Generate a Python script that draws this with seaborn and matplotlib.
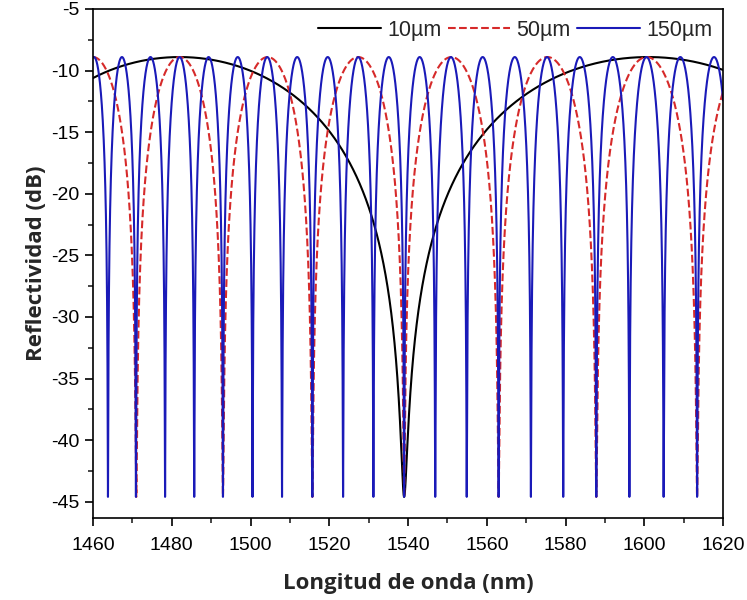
import numpy as np
import pandas as pd
import matplotlib
matplotlib.use("Agg")
import matplotlib.pyplot as plt
import seaborn as sns
from matplotlib.ticker import MultipleLocator

# ---- data ----
labels = ["10µm", "50µm", "150µm"]
colors = ["#000000", "#d62a2a", "#1a1ab8"]
styles = ["-", "--", "-"]
# wavelengths (nm) of the reflectivity nulls (incl. the neighbours just outside the axes)
nulls_10 = [1425.0, 1539.0, 1663.0]
nulls_50 = [1449.0, 1471.0, 1493.0, 1515.7, 1539.0, 1563.0, 1587.8, 1613.4, 1639.0]
nulls_150 = [1456.7, 1463.8, 1470.9, 1478.3, 1485.7, 1493.0, 1500.5, 1508.0, 1515.7,
             1523.5, 1531.2, 1539.0, 1546.9, 1554.9, 1563.0, 1571.2, 1579.4, 1587.8,
             1596.2, 1604.9, 1613.4, 1622.0]
peak_db = -8.9
floor_db = -44.6
x_ticks = [1460, 1480, 1500, 1520, 1540, 1560, 1580, 1600, 1620]
y_ticks = [-45, -40, -35, -30, -25, -20, -15, -10, -5]


def fringe(nulls):
    nulls = np.asarray(nulls)
    x = np.linspace(1460, 1620, 6001)
    inside = nulls[(nulls >= 1460) & (nulls <= 1620)]
    x = np.unique(np.concatenate([x, inside]))
    idx = np.searchsorted(nulls, x, side="right") - 1
    a = nulls[idx]
    b = nulls[idx + 1]
    ph = (x - a) / (b - a)
    s2 = np.sin(np.pi * ph) ** 2
    eps = 10 ** ((floor_db - peak_db) / 10)
    db = peak_db + 10 * np.log10(s2 * (1 - eps) + eps)
    return x, db


frames = []
for lab, nl in zip(labels, [nulls_10, nulls_50, nulls_150]):
    x, y = fringe(nl)
    frames.append(pd.DataFrame({"wl": x, "R": y, "serie": lab}))
df = pd.concat(frames, ignore_index=True)

sns.set_style("ticks")
plt.rcParams["font.family"] = ["Liberation Sans", "DejaVu Sans"]
plt.rcParams["axes.unicode_minus"] = False

fig = plt.figure(figsize=(7.47, 6.0), dpi=100)
ax = fig.add_axes([0.1245, 0.137, 0.8435, 0.848])

for lab, c, ls in zip(labels, colors, styles):
    sub = df[df["serie"] == lab]
    sns.lineplot(data=sub, x="wl", y="R", ax=ax, color=c, linestyle=ls,
                 linewidth=1.5, label=lab, sort=False, estimator=None)

ax.set_xlim(1460, 1620)
ax.set_ylim(-46.3, -5)
ax.set_xticks(x_ticks)
ax.set_yticks(y_ticks)
ax.xaxis.set_minor_locator(MultipleLocator(10))
ax.yaxis.set_minor_locator(MultipleLocator(2.5))
ax.tick_params(axis="both", which="major", direction="out", length=6, width=1.2,
               labelsize=14, colors="black")
ax.tick_params(axis="x", which="major", pad=7.5)
ax.tick_params(axis="both", which="minor", direction="out", length=3.5, width=1.2)
for sp in ax.spines.values():
    sp.set_visible(True)
    sp.set_linewidth(1.2)
    sp.set_color("black")

ax.set_xlabel("Longitud de onda (nm)", fontsize=16, fontweight="bold", labelpad=14,
              family=["Open Sans", "DejaVu Sans"])
ax.set_ylabel("Reflectividad (dB)", fontsize=16, fontweight="bold", labelpad=3,
              family=["Open Sans", "DejaVu Sans"])

leg = ax.legend(loc="upper right", ncol=3, frameon=False, fontsize=15.5,
                handlelength=2.9, columnspacing=0.3, handletextpad=0.3,
                borderaxespad=0.1)

fig.savefig("out.png", dpi=100)
